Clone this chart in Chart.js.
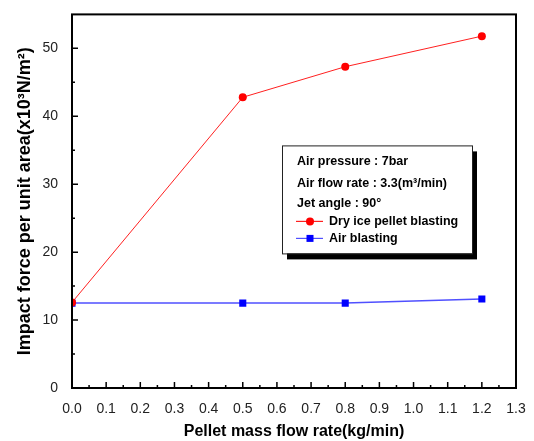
<!DOCTYPE html>
<html>
<head>
<meta charset="utf-8">
<script src="https://cdn.jsdelivr.net/npm/chart.js@4/dist/chart.umd.min.js"></script>
<style>
html, body { margin: 0; padding: 0; background: #fff; }
#contenedor { width: 534px; height: 441px; }
</style>
</head>
<body>
<div id="contenedor"><canvas id="graficoImpacto"></canvas></div>
<script>
var flujoPellet = [0.0, 0.5, 0.8, 1.2];
var hieloSeco = [12.6, 42.8, 47.3, 51.8];
var soloAire = [12.5, 12.5, 12.5, 13.1];
var notas = ['Air pressure : 7bar', 'Air flow rate : 3.3(m\u00B3/min)', 'Jet angle : 90\u00B0'];
var nombresSeries = ['Dry ice pellet blasting', 'Air blasting'];
var tituloX = 'Pellet mass flow rate(kg/min)';
var tituloY = 'Impact force per unit area(x10\u00B3N/m\u00B2)';

var familia = 'Arial, "Liberation Sans", sans-serif';
Chart.defaults.font.family = familia;
Chart.defaults.color = '#222';

function puntos(ys) {
    return flujoPellet.map(function (x, i) {
        return { x: x, y: ys[i] };
    });
}

// marco, marcas hacia dentro y menores
var marco = {
    id: 'marco',
    afterDatasetsDraw: function (chart) {
        var ctx = chart.ctx;
        var a = chart.chartArea;
        var sx = chart.scales.x;
        var sy = chart.scales.y;
        ctx.save();
        ctx.strokeStyle = '#000';
        ctx.lineWidth = 1.5;
        ctx.beginPath();
        sx.ticks.forEach(function (t, i) {
            var px = sx.getPixelForValue(t.value);
            ctx.moveTo(px, a.bottom);
            ctx.lineTo(px, a.bottom - 6);
            if (i < sx.ticks.length - 1) {
                var pm = sx.getPixelForValue(t.value + 0.05);
                ctx.moveTo(pm, a.bottom);
                ctx.lineTo(pm, a.bottom - 3);
            }
        });
        sy.ticks.forEach(function (t) {
            var py = sy.getPixelForValue(t.value);
            ctx.moveTo(a.left, py);
            ctx.lineTo(a.left + 6, py);
            var pm = sy.getPixelForValue(t.value + 5);
            if (pm > a.top) {
                ctx.moveTo(a.left, pm);
                ctx.lineTo(a.left + 3, pm);
            }
        });
        ctx.stroke();
        ctx.lineWidth = 2;
        ctx.strokeRect(a.left, a.top, a.right - a.left, a.bottom - a.top);
        ctx.restore();
    }
};

var leyenda = {
    id: 'leyenda',
    afterDraw: function (chart) {
        var ctx = chart.ctx;
        var a = chart.chartArea;
        var bx = a.left + 210, by = a.top + 131, bw = 190, bh = 108;
        ctx.save();
        ctx.fillStyle = '#000';
        ctx.fillRect(bx + 5, by + 6, bw, bh);
        ctx.fillStyle = '#fff';
        ctx.fillRect(bx, by, bw, bh);
        ctx.strokeStyle = '#222';
        ctx.lineWidth = 1;
        ctx.strokeRect(bx + 0.5, by + 0.5, bw, bh);

        ctx.fillStyle = '#000';
        ctx.font = 'bold 12.5px ' + familia;
        ctx.textBaseline = 'middle';
        var filas = [16, 38, 58];
        notas.forEach(function (n, i) {
            ctx.fillText(n, bx + 15, by + filas[i]);
        });
        var filasSerie = [76, 93];
        chart.data.datasets.forEach(function (ds, i) {
            var y = by + filasSerie[i];
            ctx.strokeStyle = ds.borderColor;
            ctx.lineWidth = 1.2;
            ctx.beginPath();
            ctx.moveTo(bx + 14, y);
            ctx.lineTo(bx + 41, y);
            ctx.stroke();
            ctx.fillStyle = ds.pointBackgroundColor;
            if (ds.pointStyle === 'circle') {
                ctx.beginPath();
                ctx.arc(bx + 28, y, 4, 0, Math.PI * 2);
                ctx.fill();
            } else {
                ctx.fillRect(bx + 24.5, y - 3.5, 7, 7);
            }
            ctx.fillStyle = '#000';
            ctx.fillText(ds.label, bx + 47, y);
        });
        ctx.restore();
    }
};

var ctx = document.getElementById('graficoImpacto').getContext('2d');
var grafico = new Chart(ctx, {
    type: 'scatter',
    data: {
        datasets: [{
            label: nombresSeries[0],
            data: puntos(hieloSeco),
            showLine: true,
            borderColor: '#ff2020',
            borderWidth: 1,
            pointStyle: 'circle',
            pointRadius: 4,
            pointBackgroundColor: '#ff0000',
            pointBorderWidth: 0,
            clip: 0
        }, {
            label: nombresSeries[1],
            data: puntos(soloAire),
            showLine: true,
            borderColor: '#5050ff',
            borderWidth: 1.5,
            pointStyle: 'rect',
            pointRadius: 5,
            pointBackgroundColor: '#0000ff',
            pointBorderWidth: 0,
            clip: 0
        }]
    },
    options: {
        responsive: true,
        maintainAspectRatio: false,
        animation: false,
        layout: { padding: { top: 13, right: 18, left: 0, bottom: 0 } },
        plugins: {
            legend: { display: false },
            tooltip: { enabled: false }
        },
        scales: {
            x: {
                type: 'linear',
                min: 0,
                max: 1.3,
                grid: { display: false },
                border: { display: false },
                ticks: {
                    stepSize: 0.1,
                    autoSkip: false,
                    maxRotation: 0,
                    padding: 5,
                    font: { size: 14 },
                    callback: function (v) { return v.toFixed(1); }
                },
                title: {
                    display: true,
                    text: tituloX,
                    color: '#000',
                    font: { size: 16, weight: 'bold' },
                    padding: { top: 0, bottom: 0 }
                },
                afterFit: function (s) { s.height = 53; }
            },
            y: {
                min: 0,
                max: 55,
                grid: { display: false },
                border: { display: false },
                ticks: {
                    stepSize: 10,
                    includeBounds: false,
                    padding: 6,
                    font: { size: 14 }
                },
                title: {
                    display: true,
                    text: tituloY,
                    color: '#000',
                    font: { size: 18, weight: 'bold' },
                    padding: { top: 14, bottom: 0 }
                },
                afterFit: function (s) { s.width = 72; }
            }
        }
    },
    plugins: [marco, leyenda]
});
</script>
</body>
</html>
